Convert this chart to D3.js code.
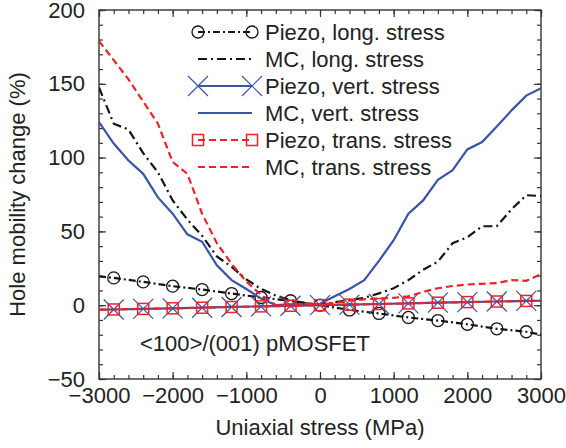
<!DOCTYPE html>
<html>
<head>
<meta charset="utf-8">
<script src="https://cdn.jsdelivr.net/npm/d3@7"></script>
<style>
  body { margin: 0; background: #fff; }
  text { font-family: "Liberation Sans", Arial, sans-serif; fill: #222; }
</style>
</head>
<body>
<svg id="chart"></svg>
<script>
// Stress values (MPa)
const piezoStress = [-3000, -2800, -2400, -2000, -1600, -1200, -800, -400, 0, 400, 800, 1200, 1600, 2000, 2400, 2800, 3000];
const mcStress = d3.range(-3000, 3001, 200);

// Piezo model
const piezoLong = [19.6, 18.5, 15.8, 12.9, 10.6, 7.9, 5.2, 3.0, 0, -3.2, -5.6, -8.3, -10.4, -12.9, -16.0, -18.0, -20.0];
const piezoVert = [-3.0, -2.9, -2.5, -2.1, -1.7, -1.2, -0.8, -0.4, 0, 0.4, 0.8, 1.2, 1.7, 2.1, 2.5, 2.9, 3.0];
const piezoTrans = [-3.0, -2.9, -2.5, -2.1, -1.7, -1.2, -0.8, -0.4, 0, 0.4, 0.8, 1.2, 1.7, 2.1, 2.5, 2.9, 3.0];

// Monte Carlo
const mcLong = [147.5, 123, 119, 103, 90, 71, 58, 47, 33, 26, 17.5, 11, 6.5, 3.4, 1.5, 0.5,
  2, 3.5, 5, 8, 11.5, 17, 24, 29.5, 42, 46, 53.5, 53.5, 65, 74.5, 74];
const mcVert = [124, 109.5, 98, 89, 73, 62, 48, 43, 27, 17, 11, 4.5, 0, 0.5, 0.5, 1,
  6, 11, 17, 30, 44, 62, 71, 85, 91.5, 105.5, 110.5, 121, 132, 142, 147];
const mcTrans = [179, 166, 153, 138, 123, 97, 89, 62, 42, 28, 16, 7, 0, 0.5, 1, 0.5,
  1.5, 3, 4, 4.5, 5, 6, 9, 11.5, 13, 14, 14.5, 15, 17, 16.5, 21];

const legendLabels = ["Piezo, long. stress", "MC, long. stress", "Piezo, vert. stress",
  "MC, vert. stress", "Piezo, trans. stress", "MC, trans. stress"];

const width = 566, height = 448;
const margin = { top: 10, right: 25, bottom: 69, left: 99 };
const black = "#151515", blue = "#3a54a6", red = "#ec2327";

const svg = d3.select("#chart").attr("width", width).attr("height", height);

const x = d3.scaleLinear().domain([-3000, 3000]).range([margin.left, width - margin.right]);
const y = d3.scaleLinear().domain([-50, 200]).range([height - margin.bottom, margin.top]);

svg.append("clipPath").attr("id", "clip")
  .append("rect")
  .attr("x", margin.left).attr("y", margin.top)
  .attr("width", x.range()[1] - x.range()[0])
  .attr("height", y.range()[0] - y.range()[1]);

// ticks: major + minor, inward on all sides
const axisColor = "#333";
function tickSet(axisGen, values, size, labels) {
  return axisGen.tickValues(values).tickSize(size).tickPadding(6)
    .tickFormat(labels ? (d => d3.format("")(d).replace("-", "\u2212")) : "");
}
const xMajor = d3.range(-3000, 3001, 1000), xMinor = d3.range(-3000, 3001, 200);
const yMajor = d3.range(-50, 201, 50), yMinor = d3.range(-50, 201, 10);
const b = height - margin.bottom, r = width - margin.right;

function styleAxis(g) {
  g.select(".domain").remove();
  g.selectAll("line").attr("stroke", axisColor).attr("stroke-width", 1.2);
  g.selectAll("text").style("font-size", "22px").attr("fill", "#222");
}

svg.append("g").attr("transform", `translate(0,${b})`).call(tickSet(d3.axisTop(x), xMinor, 4, false)).call(styleAxis);
svg.append("g").attr("transform", `translate(0,${b})`).call(tickSet(d3.axisTop(x), xMajor, 7, false)).call(styleAxis);
svg.append("g").attr("transform", `translate(0,${margin.top})`).call(tickSet(d3.axisBottom(x), xMinor, 4, false)).call(styleAxis);
svg.append("g").attr("transform", `translate(0,${margin.top})`).call(tickSet(d3.axisBottom(x), xMajor, 7, false)).call(styleAxis);
svg.append("g").attr("transform", `translate(${margin.left},0)`).call(tickSet(d3.axisRight(y), yMinor, 4, false)).call(styleAxis);
svg.append("g").attr("transform", `translate(${margin.left},0)`).call(tickSet(d3.axisRight(y), yMajor, 7, false)).call(styleAxis);
svg.append("g").attr("transform", `translate(${r},0)`).call(tickSet(d3.axisLeft(y), yMinor, 4, false)).call(styleAxis);
svg.append("g").attr("transform", `translate(${r},0)`).call(tickSet(d3.axisLeft(y), yMajor, 7, false)).call(styleAxis);

// tick labels
const xLab = svg.append("g").attr("transform", `translate(0,${b})`)
  .call(d3.axisBottom(x).tickValues(xMajor).tickSize(0).tickPadding(8)
    .tickFormat(d => String(d).replace("-", "\u2212")))
  .call(g => g.select(".domain").remove());
xLab.selectAll("text").style("font-size", "22px").attr("fill", "#222");

const yLab = svg.append("g").attr("transform", `translate(${margin.left},0)`)
  .call(d3.axisLeft(y).tickValues(yMajor).tickSize(0).tickPadding(14)
    .tickFormat(d => String(d).replace("-", "\u2212")))
  .call(g => g.select(".domain").remove());
yLab.selectAll("text").style("font-size", "22px").attr("fill", "#222");

// frame
svg.append("rect")
  .attr("x", margin.left).attr("y", margin.top)
  .attr("width", r - margin.left).attr("height", b - margin.top)
  .attr("fill", "none").attr("stroke", axisColor).attr("stroke-width", 1.4);

// axis titles
svg.append("text")
  .attr("x", x(0)).attr("y", 435)
  .attr("text-anchor", "middle").style("font-size", "22px")
  .text("Uniaxial stress (MPa)");
svg.append("text")
  .attr("transform", `translate(25,${(margin.top + b) / 2}) rotate(-90)`)
  .attr("text-anchor", "middle").style("font-size", "22px")
  .text("Hole mobility change (%)");

// series
const series = [
  { xs: piezoStress, ys: piezoLong, color: black, dash: "7,3,2,3", marker: "circle", markAt: piezoStress.slice(1, -1) },
  { xs: mcStress, ys: mcLong, color: black, dash: "9,4,2,4", marker: null },
  { xs: piezoStress, ys: piezoVert, color: blue, dash: null, marker: "cross", markAt: piezoStress.slice(1, -1) },
  { xs: mcStress, ys: mcVert, color: blue, dash: null, marker: null },
  { xs: piezoStress, ys: piezoTrans, color: red, dash: "7,4", marker: "square", markAt: piezoStress.slice(1, -1) },
  { xs: mcStress, ys: mcTrans, color: red, dash: "7,4", marker: null }
];

const line = d3.line().x(d => x(d[0])).y(d => y(d[1]));
const plot = svg.append("g").attr("clip-path", "url(#clip)");

function drawMarker(g, kind, cx, cy, color) {
  if (kind === "circle") {
    g.append("circle").attr("cx", cx).attr("cy", cy).attr("r", 6)
      .attr("fill", "none").attr("stroke", color).attr("stroke-width", 1.3);
  } else if (kind === "cross") {
    const s = 10;
    g.append("path")
      .attr("d", `M${cx - s},${cy - s}L${cx + s},${cy + s}M${cx - s},${cy + s}L${cx + s},${cy - s}`)
      .attr("stroke", color).attr("stroke-width", 1.2).attr("fill", "none");
  } else if (kind === "square") {
    g.append("rect").attr("x", cx - 5.5).attr("y", cy - 5.5).attr("width", 11).attr("height", 11)
      .attr("fill", "none").attr("stroke", color).attr("stroke-width", 1.5);
  }
}

series.forEach(s => {
  const pts = s.xs.map((v, i) => [v, s.ys[i]]);
  plot.append("path")
    .attr("d", line(pts))
    .attr("fill", "none")
    .attr("stroke", s.color)
    .attr("stroke-width", 2.2)
    .attr("stroke-dasharray", s.dash);
  if (s.marker) {
    pts.filter(p => s.markAt.includes(p[0]))
      .forEach(p => drawMarker(plot, s.marker, x(p[0]), y(p[1]), s.color));
  }
});

// legend
const legend = svg.append("g");
series.forEach((s, i) => {
  const ly = 32 + i * 27;
  const x0 = 198, x1 = 252;
  legend.append("line")
    .attr("x1", x0).attr("x2", x1).attr("y1", ly).attr("y2", ly)
    .attr("stroke", s.color).attr("stroke-width", 2.2)
    .attr("stroke-dasharray", s.dash);
  if (s.marker) {
    drawMarker(legend, s.marker, x0, ly, s.color);
    drawMarker(legend, s.marker, x1, ly, s.color);
  }
  legend.append("text")
    .attr("x", 265).attr("y", ly + 8)
    .style("font-size", "22px")
    .text(legendLabels[i]);
});

// annotation
svg.append("text")
  .attr("x", 140).attr("y", 351)
  .style("font-size", "22px")
  .text("<100>/(001) pMOSFET");
</script>
</body>
</html>
